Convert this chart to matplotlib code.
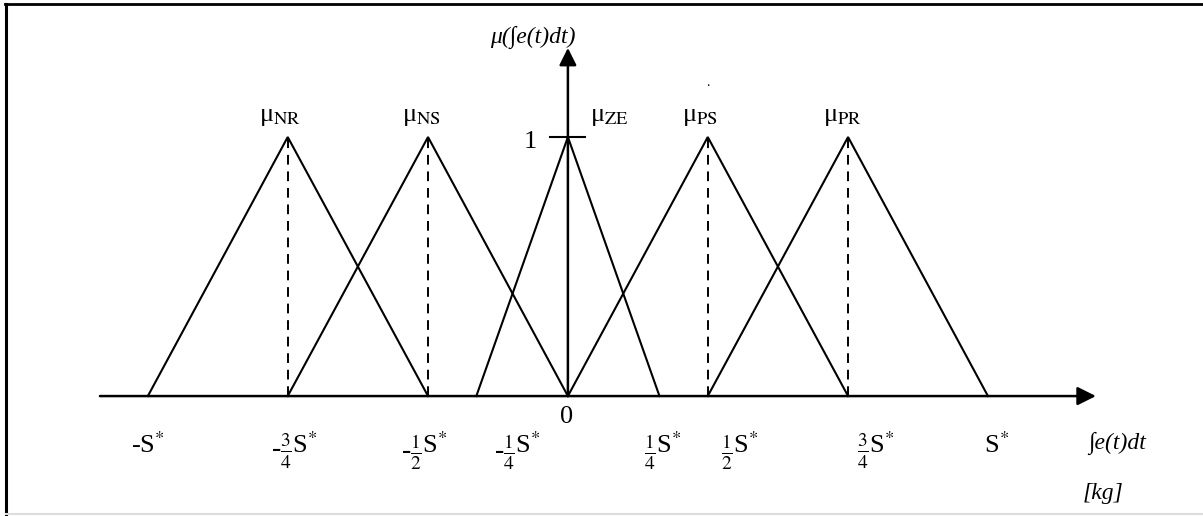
#!/usr/bin/env python3
# -*- coding: utf-8 -*-
"""
Fuzzy membership functions for the integral of the error
"""
import matplotlib
matplotlib.use("Agg")
from matplotlib import pyplot as plt
from matplotlib.lines import Line2D

plt.rcParams['font.family'] = ['Liberation Serif', 'DejaVu Serif']
plt.rcParams['mathtext.fontset'] = 'stix'

#Membership sets (triangles: left foot, peak, right foot), in units of S*
set_names = ["NR", "NS", "ZE", "PS", "PR"]
left_feet = [-1.0, -0.667, -0.218, 0.0, 0.333]
peaks = [-0.667, -0.333, 0.0, 0.333, 0.667]
right_feet = [-0.333, 0.0, 0.218, 0.667, 1.0]
peak_value = 1.0

#Label positions of the sets (x of each mu label)
name_x = [-0.686, -0.348, 0.052, 0.314, 0.655]

#Axis labels under the x axis: fraction part + S*
tick_fracs = [r"-$\frac{3}{4}$", r"-$\frac{1}{2}$", r"-$\frac{1}{4}$",
              r"$\frac{1}{4}$", r"$\frac{1}{2}$", r"$\frac{3}{4}$"]
tick_pos = [-0.657, -0.348, -0.126, 0.210, 0.393, 0.717]
#the two ends have no fraction
end_labels = [r"-S$^{*}$", r"S$^{*}$"]
end_pos = [-1.0, 1.02]

fig = plt.figure(figsize=(12.03, 5.16), dpi=100)
ax = fig.add_axes([0, 0, 1, 1])
ax.set_xlim(-1.352, 1.512)
ax.set_ylim(-0.463, 1.529)
ax.axis('off')

### frame around the drawing
fig.add_artist(Line2D([0.004, 1.0], [0.992, 0.992], transform=fig.transFigure, color='black', lw=2.0))
fig.add_artist(Line2D([0.005, 0.005], [0.0, 0.992], transform=fig.transFigure, color='black', lw=2.2))
fig.add_artist(Line2D([0.005, 1.0], [0.004, 0.004], transform=fig.transFigure, color='#dddddd', lw=1.5))

### axes with arrows
ax.annotate("", xy=(1.257, 0), xytext=(-1.114, 0),
            arrowprops=dict(arrowstyle='-|>', color='black', lw=1.8, mutation_scale=28, shrinkA=0, shrinkB=0))
ax.annotate("", xy=(0, 1.344), xytext=(0, 0),
            arrowprops=dict(arrowstyle='-|>', color='black', lw=1.8, mutation_scale=26, shrinkA=0, shrinkB=0))

### triangles
for a, b, c in zip(left_feet, peaks, right_feet):
    ax.plot([a, b, c], [0, peak_value, 0], color='black', lw=1.5, solid_joinstyle='miter')
    if b != 0:
        ax.plot([b, b], [0, peak_value], color='black', lw=1.4, ls=(0, (5, 3.5)))

### set names
for n, x in zip(set_names, name_x):
    ax.text(x, 1.077, r"μ$_{\mathrm{%s}}$" % n, fontsize=19, ha='left' if n == "ZE" else 'center', va='center')

### tick labels
for fr, x in zip(tick_fracs, tick_pos):
    ax.text(x, -0.215, fr, fontsize=20, ha='right', va='center')
    ax.text(x, -0.19, r"S$^{*}$", fontsize=19, ha='left', va='center')
for lab, x in zip(end_labels, end_pos):
    ax.text(x, -0.19, lab, fontsize=19, ha='center', va='center')
ax.text(-0.003, -0.08, "0", fontsize=19, ha='center', va='center')

### unit mark on y axis
ax.plot([-0.043, 0.04], [peak_value, peak_value], color='black', lw=1.5)
ax.text(-0.09, 0.98, "1", fontsize=19, ha='center', va='center')
ax.text(0.333, 1.212, ".", fontsize=10, ha='center', va='center')

### axis titles
ax.text(-0.083, 1.386, "μ(∫e(t)dt)", fontsize=17, style='italic', ha='center', va='center')
ax.text(1.238, -0.181, "∫e(t)dt", fontsize=17, style='italic', ha='left', va='center')
ax.text(1.226, -0.375, "[kg]", fontsize=17, style='italic', ha='left', va='center')

plt.savefig("out.png", dpi=100)
